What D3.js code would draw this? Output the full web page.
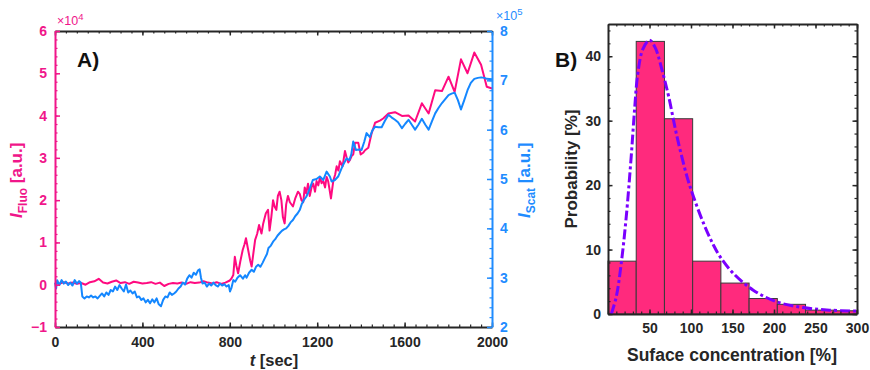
<!DOCTYPE html>
<html>
<head>
<meta charset="utf-8">
<script src="https://cdn.jsdelivr.net/npm/d3@7"></script>
<style>
  body { margin: 0; background: #fff; }
  text { font-family: "Liberation Sans", Arial, sans-serif; }
</style>
</head>
<body>
<div id="chart"></div>
<script>
// ---- panel A data ----
var timeTicks = [0, 400, 800, 1200, 1600, 2000];
var fluoTicks = [-1, 0, 1, 2, 3, 4, 5, 6];
var scatTicks = [2, 3, 4, 5, 6, 7, 8];

// fluorescence (x10^4)
var fluoTime = [0,20,40,60,80,100,120,140,160,180,200,220,240,260,280,300,320,340,360,380,400,420,440,460,480,500,520,540,560,580,600,620,640,660,680,700,720,740,760,780,800,
  808,816,823,830,838,848,859,867,874,883,893,900,908,916,925,934,945,953,965,975,982,990,998,1005,1013,1020,1028,1036,1043,1051,1058,1066,1075,1089,1100,1112,1120,1128,1136,1143,1150,1158,1166,1174,1182,1190,1197,1205,1213,1220,1228,1236,1243,1250,1255,1263,1274,1282,1289,1297,1304,1316,1327,1335,1342,1350,1358,1365,1373,1388,1399,1410,1419,1434,1449,1465,1487,1502,1526,1556,1588,1618,1648,1679,1710,1740,1771,1801,1829,1858,1888,1919,1950,1976,2000];
var fluoValue = [0.05,0.02,0.06,0.03,0.05,0.02,0.04,0.0,0.06,0.08,0.14,0.05,0.03,0.07,0.1,0.04,0.06,0.02,0.07,0.05,0.03,0.04,0.06,0.02,0.05,-0.03,0.02,0.04,0.03,0.05,0.02,0.06,0.04,0.05,0.08,0.05,0.03,0.06,0.02,0.05,0.1,
  0.15,0.23,0.66,0.45,0.27,0.55,0.82,0.95,1.1,0.85,0.58,0.43,0.75,1.06,1.2,1.41,1.21,1.45,1.69,1.77,1.28,1.6,2.0,1.85,1.77,2.1,2.2,2.0,1.6,1.45,1.9,2.1,1.95,1.85,2.05,2.2,2.15,2.0,1.95,2.3,2.16,2.39,2.1,2.3,2.39,2.2,2.45,2.35,2.55,2.4,2.45,2.3,2.55,2.45,2.3,2.04,2.47,2.6,2.8,2.7,2.92,2.8,3.16,3.0,2.89,2.95,3.05,3.08,3.36,3.36,3.08,3.12,3.18,3.24,3.58,3.83,3.88,3.93,4.05,4.08,3.99,4.0,3.86,4.29,4.05,4.6,4.58,4.92,4.56,5.33,5.0,5.49,5.2,4.68,4.64];

// scattering (x10^5)
var scatTime = [0,5,10,20,30,40,50,60,70,80,90,100,110,118,125,135,145,155,165,175,185,195,205,215,225,235,245,255,265,275,285,295,305,315,325,335,345,355,365,375,385,395,405,415,425,435,445,455,465,475,485,495,505,515,525,535,545,555,565,575,585,595,605,615,625,635,645,655,662,668,675,685,695,705,715,725,735,745,755,765,775,785,795,801,808,816,825,835,847,860,870,877,888,900,910,920,930,940,950,961,970,977,988,998,1008,1018,1028,1038,1048,1058,1068,1078,1089,1100,1110,1120,1130,1140,1150,1158,1167,1180,1197,1212,1228,1243,1258,1266,1281,1296,1310,1319,1335,1347,1356,1365,1377,1390,1403,1415,1426,1441,1452,1465,1480,1495,1510,1526,1540,1556,1570,1588,1603,1618,1633,1648,1663,1679,1695,1710,1725,1740,1755,1771,1786,1801,1815,1829,1844,1858,1873,1888,1903,1919,1935,1950,1965,1976,2000];
var scatValue = [2.9,2.78,2.95,2.85,2.95,2.88,2.92,2.85,2.9,2.84,2.95,2.88,2.93,2.9,2.62,2.58,2.62,2.6,2.64,2.6,2.62,2.58,2.63,2.68,2.62,2.7,2.65,2.75,2.72,2.82,2.75,2.85,2.78,2.72,2.86,2.7,2.74,2.68,2.72,2.6,2.62,2.55,2.58,2.5,2.55,2.48,2.56,2.5,2.58,2.46,2.42,2.55,2.62,2.6,2.7,2.65,2.68,2.72,2.78,2.82,2.9,2.86,2.98,3.05,3.0,3.1,3.06,3.15,3.17,3.0,2.88,2.9,2.82,2.88,2.84,2.9,2.85,2.82,2.88,2.84,2.87,2.82,2.85,2.72,2.8,2.95,2.92,3.0,3.05,2.98,3.05,3.0,3.1,3.16,3.12,3.22,3.26,3.22,3.3,3.4,3.48,3.6,3.65,3.73,3.78,3.85,3.9,3.95,3.98,4.0,4.05,4.12,4.17,4.25,4.3,4.37,4.5,4.58,4.64,4.72,4.82,4.98,5.0,5.05,4.98,5.15,5.05,4.95,4.98,5.05,5.2,5.29,5.42,5.38,5.5,5.76,5.59,5.6,5.59,5.75,5.93,5.85,5.98,6.06,6.05,6.05,6.18,6.3,6.25,6.2,6.15,6.03,6.12,6.2,6.1,6.0,6.1,6.22,6.1,6.0,6.17,6.33,6.44,6.54,6.62,6.7,6.73,6.75,6.6,6.41,6.6,6.8,6.95,7.03,7.05,7.06,7.05,7.03,7.02];

// ---- panel B data ----
var concTicks = [50, 100, 150, 200, 250, 300];
var probTicks = [0, 10, 20, 30, 40];
var binEdges = [0, 34, 68, 102, 136, 170, 204, 238, 272, 306];
var binProb = [8.2, 42.3, 30.3, 8.2, 4.8, 2.4, 1.5, 0.6, 0.5];
var fitConc = [4, 10, 16, 22, 28, 32, 36, 42, 50, 57, 65, 73, 83, 95, 103, 115, 127, 135, 151, 175, 203, 235, 267, 300];
var fitProb = [0, 2.7, 7.9, 15.1, 24.5, 31.7, 37.4, 41.1, 42.5, 41.3, 37.9, 33.8, 27.6, 21.4, 18.2, 14.1, 10.7, 8.9, 6.3, 3.7, 1.9, 1.0, 0.6, 0.45];

var pink = '#f0168a', pinkLine = '#ff0a80', blue = '#1f8cff', blueLine = '#1487ff', dark = '#262626';
var fmt = d3.format('d');

var svg = d3.select('#chart').append('svg')
  .attr('width', 870)
  .attr('height', 370);

// ===== Panel A =====
var xA = d3.scaleLinear().domain([0, 2000]).range([55, 492]);
var yF = d3.scaleLinear().domain([-1, 6]).range([327, 31]);
var yS = d3.scaleLinear().domain([2, 8]).range([327, 31]);

var fluo = fluoTime.map(function (t, i) { return [t, fluoValue[i]]; });
var scat = scatTime.map(function (t, i) { return [t, scatValue[i]]; });

svg.append('path').datum(fluo)
  .attr('fill', 'none').attr('stroke', pinkLine).attr('stroke-width', 2)
  .attr('stroke-linejoin', 'round')
  .attr('d', d3.line().x(function (d) { return xA(d[0]); }).y(function (d) { return yF(d[1]); }));

svg.append('path').datum(scat)
  .attr('fill', 'none').attr('stroke', blueLine).attr('stroke-width', 2)
  .attr('stroke-linejoin', 'round')
  .attr('d', d3.line().x(function (d) { return xA(d[0]); }).y(function (d) { return yS(d[1]); }));

// axis helpers: ticks point inward
function styleAxis(g, col, size) {
  g.select('.domain').attr('stroke', col).attr('stroke-width', 2);
  g.selectAll('.tick line').attr('stroke', col).attr('stroke-width', 1.5);
  g.selectAll('.tick text').attr('fill', col).style('font-size', size + 'px').style('font-weight', 'bold');
}
function minor(g, axis, col) {
  g.call(axis.tickFormat('').tickSizeInner(-2.5).tickSizeOuter(0));
  g.select('.domain').remove();
  g.selectAll('.tick line').attr('stroke', col).attr('stroke-width', 1.2);
}

// bottom & top
svg.append('g').attr('transform', 'translate(0,327)')
  .call(minor, d3.axisBottom(xA).tickValues(d3.range(0, 2001, 50)), dark);
svg.append('g').attr('transform', 'translate(0,31)')
  .call(minor, d3.axisTop(xA).tickValues(d3.range(0, 2001, 50)), dark);
svg.append('g').attr('transform', 'translate(0,327)')
  .call(d3.axisBottom(xA).tickValues(timeTicks).tickFormat(fmt).tickSizeInner(-4.5).tickSizeOuter(0).tickPadding(10))
  .call(styleAxis, dark, 14);
svg.append('g').attr('transform', 'translate(0,31)')
  .call(d3.axisTop(xA).tickValues(timeTicks).tickSizeInner(-4.5).tickSizeOuter(0).tickFormat(''))
  .call(styleAxis, dark, 14);

// left (fluo)
svg.append('g').attr('transform', 'translate(55,0)')
  .call(minor, d3.axisLeft(yF).tickValues(d3.range(-1, 6.01, 0.2)), pink);
svg.append('g').attr('transform', 'translate(55,0)')
  .call(d3.axisLeft(yF).tickValues(fluoTicks).tickFormat(fmt).tickSizeInner(-5).tickSizeOuter(0).tickPadding(8))
  .call(styleAxis, pink, 14);

// right (scat)
svg.append('g').attr('transform', 'translate(492,0)')
  .call(minor, d3.axisRight(yS).tickValues(d3.range(2, 8.01, 0.2)), blue);
svg.append('g').attr('transform', 'translate(492,0)')
  .call(d3.axisRight(yS).tickValues(scatTicks).tickFormat(fmt).tickSizeInner(-5).tickSizeOuter(0).tickPadding(8))
  .call(styleAxis, blue, 14);

// exponent labels
var e4 = svg.append('text').attr('x', 57).attr('y', 25).attr('fill', pink).style('font-size', '12.5px');
e4.append('tspan').text('×10');
e4.append('tspan').attr('dy', -5).style('font-size', '9.5px').text('4');
var e5 = svg.append('text').attr('x', 496).attr('y', 20).attr('fill', blue).style('font-size', '12.5px');
e5.append('tspan').text('×10');
e5.append('tspan').attr('dy', -5).style('font-size', '9.5px').text('5');

// axis titles
function yTitle(x, y, col, sub) {
  var t = svg.append('text').attr('transform', 'translate(' + x + ',' + y + ') rotate(-90)')
    .attr('fill', col).style('font-size', '17px').style('font-weight', 'bold');
  t.append('tspan').style('font-style', 'italic').text('I');
  t.append('tspan').attr('dy', 5).style('font-size', '12px').text(sub);
  t.append('tspan').attr('dy', -5).text(' [a.u.]');
}
yTitle(22, 218, pink, 'Fluo');
yTitle(530, 218, blue, 'Scat');

var xt = svg.append('text').attr('x', 274).attr('y', 366).attr('text-anchor', 'middle')
  .attr('fill', dark).style('font-size', '16.5px').style('font-weight', 'bold');
xt.append('tspan').style('font-style', 'italic').text('t');
xt.append('tspan').text(' [sec]');

svg.append('text').attr('x', 77).attr('y', 67).attr('fill', '#111')
  .style('font-size', '21px').style('font-weight', 'bold').text('A)');

// ===== Panel B =====
var xB = d3.scaleLinear().domain([0, 300]).range([608, 857]);
var yB = d3.scaleLinear().domain([0, 45]).range([314, 24]);

svg.append('g').selectAll('rect')
  .data(binProb)
  .enter()
  .append('rect')
  .attr('x', function (d, i) { return xB(binEdges[i]); })
  .attr('y', function (d) { return yB(d); })
  .attr('width', function (d, i) { return xB(Math.min(binEdges[i + 1], 300)) - xB(binEdges[i]); })
  .attr('height', function (d) { return yB(0) - yB(d); })
  .attr('fill', '#ff2a7d')
  .attr('stroke', '#3a3a3a')
  .attr('stroke-width', 1);

var fit = fitConc.map(function (c, i) { return [c, fitProb[i]]; });
svg.append('path').datum(fit)
  .attr('fill', 'none').attr('stroke', '#7a00ff').attr('stroke-width', 3)
  .attr('stroke-dasharray', '10,3,3,3')
  .attr('d', d3.line().curve(d3.curveCatmullRom)
    .x(function (d) { return xB(d[0]); }).y(function (d) { return yB(d[1]); }));

svg.append('g').attr('transform', 'translate(0,314)')
  .call(minor, d3.axisBottom(xB).tickValues(d3.range(0, 301, 10)), dark);
svg.append('g').attr('transform', 'translate(0,24)')
  .call(minor, d3.axisTop(xB).tickValues(d3.range(0, 301, 10)), dark);
svg.append('g').attr('transform', 'translate(608,0)')
  .call(minor, d3.axisLeft(yB).tickValues(d3.range(0, 45.1, 2)), dark);
svg.append('g').attr('transform', 'translate(857,0)')
  .call(minor, d3.axisRight(yB).tickValues(d3.range(0, 45.1, 2)), dark);

svg.append('g').attr('transform', 'translate(0,314)')
  .call(d3.axisBottom(xB).tickValues(concTicks).tickSizeInner(-4.5).tickSizeOuter(0).tickPadding(9))
  .call(styleAxis, dark, 14);
svg.append('g').attr('transform', 'translate(0,24)')
  .call(d3.axisTop(xB).tickValues(concTicks).tickSizeInner(-4.5).tickSizeOuter(0).tickFormat(''))
  .call(styleAxis, dark, 14);
svg.append('g').attr('transform', 'translate(608,0)')
  .call(d3.axisLeft(yB).tickValues(probTicks).tickSizeInner(-4.5).tickSizeOuter(0).tickPadding(7))
  .call(styleAxis, dark, 14);
svg.append('g').attr('transform', 'translate(857,0)')
  .call(d3.axisRight(yB).tickValues(probTicks).tickSizeInner(-4.5).tickSizeOuter(0).tickFormat(''))
  .call(styleAxis, dark, 14);

svg.append('text').attr('transform', 'translate(577,169) rotate(-90)')
  .attr('text-anchor', 'middle').attr('fill', dark)
  .style('font-size', '17px').style('font-weight', 'bold').text('Probability [%]');
svg.append('text').attr('x', 732).attr('y', 361).attr('text-anchor', 'middle')
  .attr('fill', dark).style('font-size', '17.5px').style('font-weight', 'bold')
  .text('Suface concentration [%]');
svg.append('text').attr('x', 555).attr('y', 67).attr('fill', '#111')
  .style('font-size', '21px').style('font-weight', 'bold').text('B)');
</script>
</body>
</html>
